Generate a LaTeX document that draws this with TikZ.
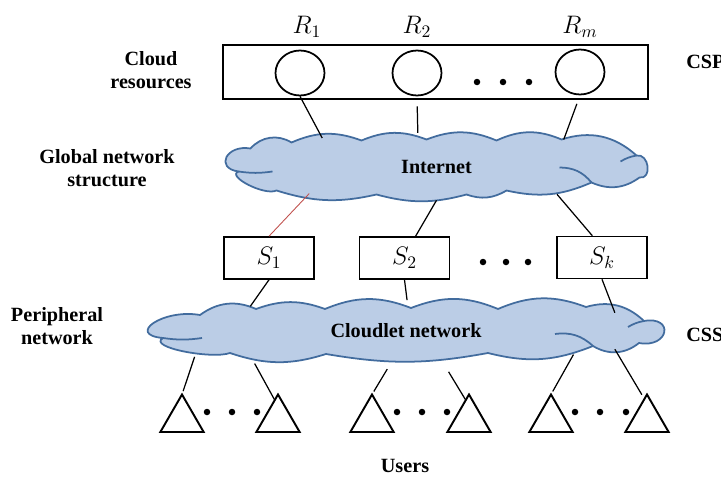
\documentclass[tikz,border=0pt]{standalone}
\usepackage{amsmath}
\usepackage{fontspec}
\setmainfont{Liberation Serif}
\usepackage{xcolor}
\usepackage{tikz}
\usetikzlibrary{shapes.geometric,calc}

\definecolor{cloudfill}{RGB}{187,205,230}
\definecolor{cloudedge}{RGB}{66,108,158}
\definecolor{redlink}{RGB}{192,80,77}

\begin{document}
\begin{tikzpicture}[x=0.02cm,y=0.02cm,
		lbl/.style={font=\fontsize{11.5}{13.5}\selectfont\bfseries,align=center},
		mlbl/.style={font=\fontsize{14}{16}\selectfont},
		res/.style={ellipse,draw,line width=1pt,minimum width=0.98cm,minimum height=0.9cm,inner sep=0pt},
		srv/.style={rectangle,draw,line width=0.9pt,minimum width=1.8cm,minimum height=0.84cm,font=\fontsize{14}{16}\selectfont},
		usr/.style={regular polygon,regular polygon sides=3,draw,line width=1.1pt,minimum size=1cm,inner sep=0pt,outer sep=0pt},
		netedge/.style={draw=cloudedge,fill=cloudfill,line width=1pt,line join=round},
		netlbl/.style={ellipse,inner sep=0pt,font=\fontsize{11.5}{13}\selectfont\bfseries},
		seam/.style={cloudedge,line width=1pt},
		link/.style={line width=0.7pt}]
	\useasboundingbox (0,0) rectangle (721,478);

	\node[draw,line width=1.1pt,minimum width=8.5cm,minimum height=1.08cm] (pool) at (435.5,406) {};
	\node[res] (r1) at (300,405) {};
	\node[res] (r2) at (417,405) {};
	\node[res] (rm) at (580,406) {};
	\node[mlbl] (r1l) at (307,451) {$R_1$};
	\node[mlbl] (r2l) at (417,451) {$R_2$};
	\node[mlbl] (rml) at (580,451) {$R_m$};

	\coordinate (inetc) at (436.5,311.5);
	\coordinate (cnetc) at (406,147);
	% internet
	\filldraw[netedge] ($(inetc)+(200,11)$)
		to[bend right=30] ($(inetc)+(125,27)$)
		to[bend right=24] ($(inetc)+(60,26)$)
		to[bend right=22] ($(inetc)+(-10,27)$)
		to[bend right=22] ($(inetc)+(-75,26)$)
		to[bend right=22] ($(inetc)+(-145,24)$)
		to[bend right=40] ($(inetc)+(-186,18)$)
		to[out=170,in=172,looseness=2.4] ($(inetc)+(-198,-5)$)
		to[out=200,in=205,looseness=0.8] ($(inetc)+(-160,-24)$)
		to[bend right=15] ($(inetc)+(-60,-28)$)
		to[bend right=15] ($(inetc)+(30,-28)$)
		to[bend right=25] ($(inetc)+(70,-24)$)
		to[bend right=18] ($(inetc)+(155,-16)$)
		to[bend right=30] ($(inetc)+(203,-11)$)
		to[out=350,in=10,looseness=1.5] cycle;
	% cloudlet
	\filldraw[netedge] ($(cnetc)+(238,10)$)
		to[bend right=30] ($(cnetc)+(180,24)$)
		to[bend right=22] ($(cnetc)+(92,22)$)
		to[bend right=22] ($(cnetc)+(5,23)$)
		to[bend right=22] ($(cnetc)+(-81,22)$)
		to[bend right=20] ($(cnetc)+(-150,22)$)
		to[bend right=30] ($(cnetc)+(-206,16)$)
		to[out=170,in=175,looseness=2.2] ($(cnetc)+(-243,-7)$)
		to[out=210,in=200,looseness=0.7] ($(cnetc)+(-176,-22)$)
		to[bend right=18] ($(cnetc)+(-80,-23)$)
		to[bend right=10] ($(cnetc)+(82,-22)$)
		to[bend right=18] ($(cnetc)+(187,-15)$)
		to[bend right=35] ($(cnetc)+(233,-12)$)
		to[out=350,in=10,looseness=3.5] cycle;
	\node[netlbl,minimum width=8.46cm,minimum height=1.34cm] (inet) at (inetc) {Internet};
	\node[netlbl,minimum width=10.36cm,minimum height=1.22cm] (cnet) at (cnetc) {Cloudlet network};
	\draw[seam] ($(inet)+(-198,-5)$) to[bend right=8] ($(inet)+(-164,-5)$);
	\draw[seam] ($(inet)+(123,-1)$) to[bend left=25] ($(inet)+(155,-16)$);
	\draw[seam] ($(inet)+(184,5)$) to[bend left=10] ($(inet)+(200,11)$);
	\draw[seam] ($(cnet)+(-243,-7)$) to[bend right=8] ($(cnet)+(-204,-7)$);
	\draw[seam] ($(cnet)+(149,-3)$) to[bend left=25] ($(cnet)+(187,-15)$);
	\draw[seam] ($(cnet)+(222,4)$) to[bend left=10] ($(cnet)+(238,10)$);

	\node[srv] (s1) at (269,220) {$S_1$};
	\node[srv] (s2) at (404.5,220) {$S_2$};
	\node[srv] (sk) at (602,220.5) {$S_k$};

	\foreach \n/\x in {1/182,2/278,3/372,4/469,5/551,6/647}
		\node[usr] (t\n) at (\x,58.5) {};

	\foreach \x/\y in {477/396,503/396,529/396,483/216,506/216,528/216,
			207/66,232/66,257/66,397/66,422/66,447/66,575/66,600/66,626/66}
		\fill (\x,\y) circle (0.065cm);

	\node[lbl] (cr) at (151,408) {Cloud\\resources};
	\node[lbl] (gns) at (107,310) {Global network\\structure};
	\node[lbl] (pn) at (57,152) {Peripheral\\network};
	\node[lbl,anchor=west,inner sep=0pt] (csp) at (686,416) {CSP};
	\node[lbl,anchor=west,inner sep=0pt] (css) at (686,143) {CSS};
	\node[lbl] (users) at (405,12) {Users};

	\draw[link] (r1.south) -- (inet.166);
	\draw[link,shorten <=0.2cm] (r2.south) -- (inet.119);
	\draw[link,shorten <=0.18cm] (rm.south) -- (inet.12);
	\draw[redlink,line width=0.5pt] (inet.192) -- (s1.north);
	\draw[link] (inet.270) -- (s2.63);
	\draw[link] (inet.347) -- (sk.114);
	\draw[link] (s1.south) -- (cnet.171);
	\draw[link] (s2.south) -- (cnet.88);
	\draw[link] (sk.south) -- (cnet.5);
	\draw[link,shorten <=0.16cm,shorten >=2pt] (cnet.185.5) -- (t1.corner 1);
	\draw[link,shorten <=0.18cm] (cnet.189.4) -- ($(t2.corner 1)!0.15!(t2.corner 2)$);
	\draw[link,shorten <=0.17cm,shorten >=2pt] (cnet.245.3) -- (t3.corner 1);
	\draw[link,shorten <=0.24cm] (cnet.320) -- ($(t4.corner 1)!0.15!(t4.corner 2)$);
	\draw[link,shorten >=2pt] (cnet.352.4) -- (t5.corner 1);
	\draw[link,shorten >=0.1cm] (cnet.355.3) -- ($(t6.corner 1)!0.12!(t6.corner 2)$);
\end{tikzpicture}
\end{document}
